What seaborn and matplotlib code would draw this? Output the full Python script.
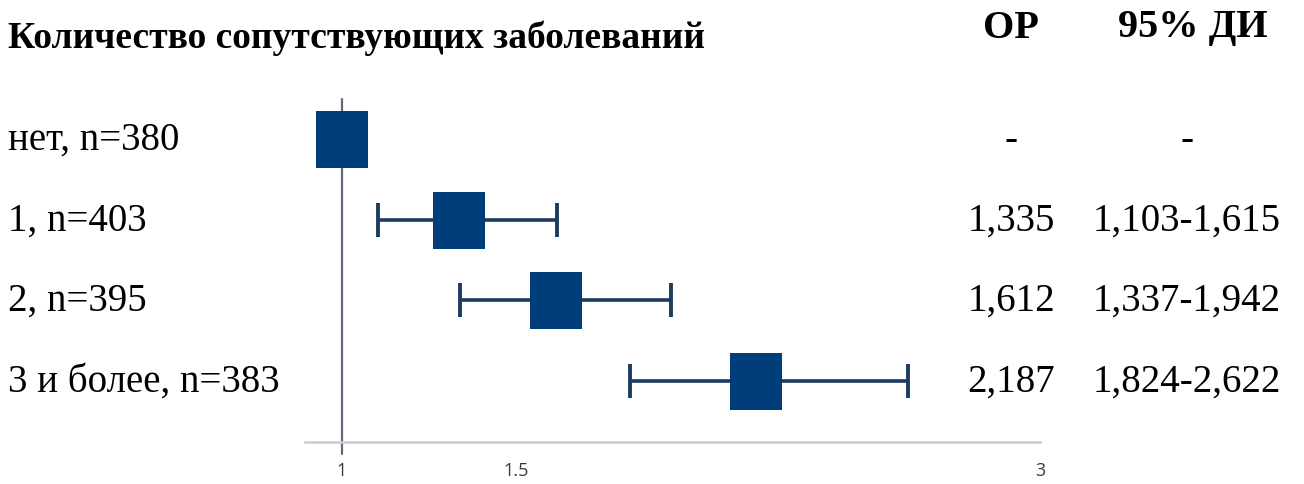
import numpy as np
import matplotlib
matplotlib.use("Agg")
import matplotlib.pyplot as plt
import seaborn as sns
from matplotlib.markers import MarkerStyle
from matplotlib.path import Path
from matplotlib.transforms import blended_transform_factory

# --- data -----------------------------------------------------------------
groups = ["нет, n=380", "1, n=403", "2, n=395", "3 и более, n=383"]
odds_ratio = [1.0, 1.335, 1.612, 2.187]
ci_low = [np.nan, 1.103, 1.337, 1.824]
ci_high = [np.nan, 1.615, 1.942, 2.622]
is_reference = [True, False, False, False]
tick_values = [1, 1.5, 3]
tick_labels = ["1", "1.5", "3"]

title = "Количество сопутствующих заболеваний"
col_or = "ОР"
col_ci = "95% ДИ"

def fmt(v):
    return f"{v:.3f}".replace(".", ",")

or_text = ["-" if ref else fmt(v) for ref, v in zip(is_reference, odds_ratio)]
ci_text = ["-" if ref else f"{fmt(lo)}-{fmt(hi)}"
           for ref, lo, hi in zip(is_reference, ci_low, ci_high)]

# --- figure ---------------------------------------------------------------
sns.set_theme(style="white")
plt.rcParams["font.family"] = ["Liberation Serif", "DejaVu Serif"]

W, H, DPI = 1304, 485, 100
fig = plt.figure(figsize=(W / DPI, H / DPI), dpi=DPI)

# axes placed in pixel units (from the top-left corner)
ax_left, ax_right, ax_top, ax_bottom = 305, 1040, 100, 443
ax = fig.add_axes([ax_left / W, 1 - ax_bottom / H,
                   (ax_right - ax_left) / W, (ax_bottom - ax_top) / H])

rows = np.arange(len(groups))
df = {"row": rows, "or": odds_ratio}

box_color = "#003d7b"
bar_color = "#1b3c60"

# confidence intervals
lo = np.array(ci_low)
hi = np.array(ci_high)
orv = np.array(odds_ratio)
mask = ~np.array(is_reference)
ax.errorbar(orv[mask], rows[mask],
            xerr=[orv[mask] - lo[mask], hi[mask] - orv[mask]],
            fmt="none", ecolor=bar_color, elinewidth=2.6,
            capsize=12.5, capthick=2.8, zorder=2)

# point estimates drawn as filled rectangles
rect = Path([(-0.45, -0.5), (0.45, -0.5), (0.45, 0.5), (-0.45, 0.5), (-0.45, -0.5)],
            [Path.MOVETO, Path.LINETO, Path.LINETO, Path.LINETO, Path.CLOSEPOLY])
sns.scatterplot(x="or", y="row", data=df, marker=MarkerStyle(rect),
                s=(57 * 72 / DPI) ** 2, color=box_color, linewidth=0,
                zorder=3, ax=ax, legend=False)

# axis limits: rows spaced evenly, linear OR scale
x_min, x_max = 0.894, 3.0
ax.set_xlim(x_min, x_max)
y_top, y_bot = -0.496, 3.756
ax.set_ylim(y_bot, y_top)

# line of no effect, running slightly below the axis
ax.plot([1, 1], [y_top, y_bot + 0.15], color="#5f6c7e", lw=1.6,
        clip_on=False, zorder=1)

for side in ["top", "right", "left"]:
    ax.spines[side].set_visible(False)
ax.spines["bottom"].set_color("#cccccc")
ax.spines["bottom"].set_linewidth(1.8)
ax.set_yticks([])
ax.set_xticks(tick_values)
ax.set_xticklabels(tick_labels, family=["Open Sans", "DejaVu Sans"],
                   fontsize=13, color="#3a3a3a")
ax.tick_params(axis="x", length=0, pad=14)
ax.set_xlabel("")
ax.set_ylabel("")

# text columns
tr = blended_transform_factory(fig.transFigure, ax.transData)
fs = 28
for r, (g, o, c) in enumerate(zip(groups, or_text, ci_text)):
    ax.text(8 / W, r, g, transform=tr, ha="left", va="center",
            fontsize=fs, color="black")
    ax.text(1011 / W, r, o, transform=tr, ha="center", va="center",
            fontsize=fs, color="black")
    ax.text(1187 / W, r, c, transform=tr, ha="center", va="center",
            fontsize=fs, color="black")

fig.text(8 / W, 1 - 38 / H, title, ha="left", va="center",
         fontsize=27, fontweight="bold", color="black")
fig.text(1011 / W, 1 - 28 / H, col_or, ha="center", va="center",
         fontsize=29, fontweight="bold", color="black")
fig.text(1193 / W, 1 - 28 / H, col_ci, ha="center", va="center",
         fontsize=29, fontweight="bold", color="black")

fig.savefig("out.png", dpi=DPI, facecolor="white")
